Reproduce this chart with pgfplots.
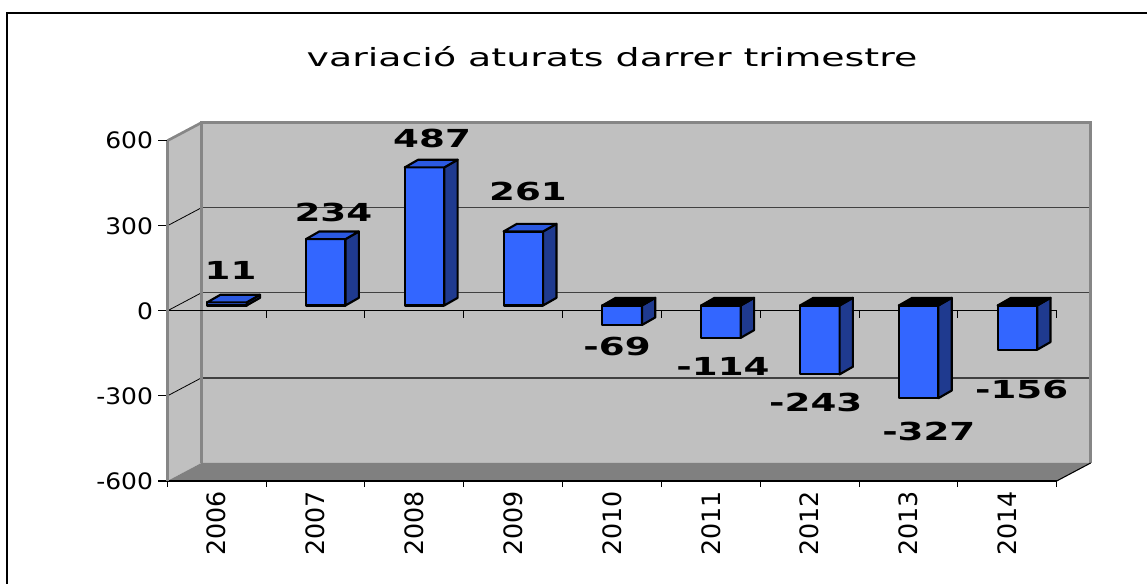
\documentclass[border=0pt]{standalone}
\usepackage{fontspec}
\setmainfont{DejaVu Sans}
\usepackage{graphicx}
\usepackage{pgfplots}
\usepackage{pgfplotstable}
\pgfplotsset{compat=1.18}
\definecolor{wall}{HTML}{C0C0C0}
\definecolor{floorc}{HTML}{808080}
\definecolor{edge}{HTML}{868686}
\definecolor{barfront}{HTML}{3366FF}
\definecolor{barside}{HTML}{1F3A8F}
\definecolor{bartop}{HTML}{2B59E0}
\definecolor{gridc}{HTML}{404040}

\pgfplotstableread{
i v lx ly
0 11 0.140 142.3
1 234 1.180 345.8
2 487 2.179 606.7
3 261 3.150 421.9
4 -69 4.051 -125.0
5 -114 5.123 -195.5
6 -243 6.062 -321.4
7 -327 7.206 -424.7
8 -156 8.146 -278.0
}\bars

\newcommand\lbl[1]{\scalebox{1.5}[1]{\fontsize{18.6pt}{20pt}\selectfont\bfseries #1}}
\newcommand\yl[1]{\scalebox{1.1}[1]{#1}}

\begin{document}
\begin{tikzpicture}
\useasboundingbox (0,0) rectangle (860.25pt,437.25pt);
\draw[line width=1pt] (5.25pt,-20pt) rectangle (880pt,427.5pt);
\node[anchor=base, inner sep=0pt] at (459pt,387.2pt) {\resizebox{458pt}{\height}{\fontsize{18.8pt}{22pt}\selectfont variació aturats darrer trimestre}};
\begin{axis}[
  scale only axis, width=667pt, height=255.2pt,
  at={(125.5pt,76.5pt)}, anchor=south west,
  xmin=-0.5, xmax=8.5, ymin=-600, ymax=600, clip=false,
  axis x line*=bottom, axis y line*=left,
  x axis line style={black, line width=0.9pt},
  y axis line style={draw=edge, line width=2pt},
  axis on top,
  tick align=outside,
  ytick={-600,-300,0,300,600},
  yticklabels={\yl{-600},\yl{-300},\yl{0},\yl{300},\yl{600}},
  ytick style={black, line width=0.8pt, /pgfplots/major tick length=6.75pt},
  yticklabel style={font=\fontsize{17pt}{19pt}\selectfont, xshift=-3pt},
  xtick={-0.5,0.5,...,8.5},
  x tick label as interval,
  xticklabels={2006,2007,2008,2009,2010,2011,2012,2013,2014},
  xtick style={black, line width=0.8pt, /pgfplots/major tick length=4.5pt},
  xticklabel style={rotate=90, anchor=east, font=\fontsize{19pt}{21pt}\selectfont},
]
% walls
\addplot[fill=wall, draw=none, forget plot] coordinates {(-0.5,-600) (-0.5,600) (-0.156,663.5) (-0.156,-536.5)} -- cycle;
\addplot[fill=wall, draw=none, forget plot] coordinates {(-0.156,-536.5) (-0.156,663.5) (8.844,663.5) (8.844,-536.5)} -- cycle;
\addplot[fill=floorc, draw=none, forget plot] coordinates {(-0.5,-600) (8.5,-600) (8.844,-536.5) (-0.156,-536.5)} -- cycle;
% grid
\draw[gridc, line width=0.9pt] (axis cs:-0.156,363.5) -- (axis cs:8.844,363.5);
\draw[gridc, line width=0.9pt] (axis cs:-0.156,63.5) -- (axis cs:8.844,63.5);
\draw[gridc, line width=0.9pt] (axis cs:-0.156,-236.5) -- (axis cs:8.844,-236.5);
\draw[black, line width=0.6pt] (axis cs:-0.5,300) -- (axis cs:-0.156,363.5);
\draw[black, line width=0.6pt] (axis cs:-0.5,0) -- (axis cs:-0.156,63.5);
\draw[black, line width=0.6pt] (axis cs:-0.5,-300) -- (axis cs:-0.156,-236.5);
\draw[edge, line width=2pt] (axis cs:-0.156,-536.5) -- (axis cs:-0.156,663.5) -- (axis cs:8.844,663.5) -- (axis cs:8.844,-536.5);
\draw[edge, line width=2pt] (axis cs:-0.5,600) -- (axis cs:-0.156,663.5);
\draw[black, line width=0.8pt] (axis cs:8.5,-600) -- (axis cs:8.844,-536.5);
% zero axis
\draw[black, line width=0.9pt] (axis cs:-0.5,0) -- (axis cs:8.5,0);
\pgfplotsinvokeforeach{0.5,1.5,2.5,3.5,4.5,5.5,6.5,7.5,8.5}{
  \draw[black, line width=0.8pt] (axis cs:#1,0) -- ++(0pt,-5pt);
}
% bars
\pgfplotsinvokeforeach{0,...,8}{%
  \pgfplotstablegetelem{#1}{v}\of\bars \let\bv\pgfplotsretval
  \pgfplotstablegetelem{#1}{lx}\of\bars \let\blx\pgfplotsretval
  \pgfplotstablegetelem{#1}{ly}\of\bars \let\bly\pgfplotsretval
  \pgfmathsetmacro\xl{#1+0.103-0.2}
  \pgfmathsetmacro\xr{#1+0.103+0.2}
  \pgfmathsetmacro\xlb{\xl+0.135}
  \pgfmathsetmacro\xrb{\xr+0.135}
  \pgfmathsetmacro\yb{19}
  \pgfmathsetmacro\yt{19+\bv}
  \pgfmathsetmacro\ybb{19+27}
  \pgfmathsetmacro\ytb{19+27+\bv}
  \pgfmathsetmacro\yc{19+max(\bv,0)}
  \pgfmathsetmacro\ycb{\yc+27}
  \ifdim\bv pt<0pt \def\topc{black}\else\def\topc{bartop}\fi
  \edef\tmp{%
    \noexpand\addplot[fill=barfront, draw=black, line width=1.6pt, line join=round, forget plot] coordinates {(\xl,\yb) (\xr,\yb) (\xr,\yt) (\xl,\yt)} -- cycle;
    \noexpand\addplot[fill=barside, draw=black, line width=1.6pt, line join=round, forget plot] coordinates {(\xr,\yb) (\xrb,\ybb) (\xrb,\ytb) (\xr,\yt)} -- cycle;
    \noexpand\addplot[fill=\topc, draw=black, line width=1.6pt, line join=round, forget plot] coordinates {(\xl,\yc) (\xr,\yc) (\xrb,\ycb) (\xlb,\ycb)} -- cycle;
    \noexpand\node[inner sep=0pt] at (axis cs:\blx,\bly) {\noexpand\lbl{\bv}};
  }\tmp
}
\end{axis}
\end{tikzpicture}
\end{document}
